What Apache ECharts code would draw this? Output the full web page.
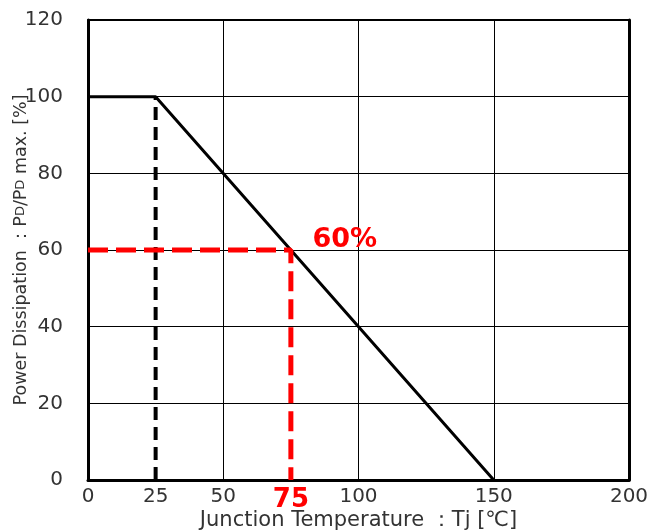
<!DOCTYPE html>
<html><head><meta charset="utf-8">
<script src="https://cdn.jsdelivr.net/npm/echarts@6/dist/echarts.min.js"></script>
<style>html,body{margin:0;padding:0;background:#fff}#c{width:651px;height:531px}</style>
</head><body><div id="c"></div>
<script>
// Derating curve
const curveTemp = [0, 25, 150];
const curvePower = [100, 100, 0];
// Black dashed guide at 25°C
const guide25Temp = [25, 25];
const guide25Power = [0, 100];
// Red dashed guide to 75°C / 60%
const guide75Temp = [0, 75, 75];
const guide75Power = [60, 60, 0];
const highlightPoint = [75, 60];
const highlightLabel = '60%';
// Tick labels
const xTickLabels = ['0', '25', '50', '75', '100', '150', '200'];
const xHighlightTick = '75';
const yTicks = [0, 20, 40, 60, 80, 100, 120];

const zip = (a, b) => a.map((v, i) => [v, b[i]]);
const font = 'DejaVu Sans';

const chart = echarts.init(document.getElementById('c'));
chart.setOption({
  animation: false,
  backgroundColor: '#fff',
  grid: { left: 88, right: 22, top: 20, bottom: 51, containLabel: false, outerBoundsMode: 'none' },
  xAxis: [
    {
      type: 'value', min: 0, max: 200, interval: 25, position: 'bottom',
      name: 'Junction Temperature ：Tj [℃]', nameLocation: 'middle', nameGap: 30, nameMoveOverlap: false,
      nameTextStyle: { fontFamily: font, fontSize: 21, color: '#333' },
      axisLine: { show: true, onZero: false, lineStyle: { color: '#000', width: 3 } },
      axisTick: { show: false },
      splitLine: { show: false },
      axisLabel: {
        margin: 7, fontFamily: font, fontSize: 20, color: '#333', verticalAlign: 'top',
        formatter: v => {
          const s = String(v);
          if (xTickLabels.indexOf(s) < 0) return '';
          return s === xHighlightTick ? '{r|' + s + '}' : s;
        },
        rich: { r: { fontFamily: font, fontSize: 26, fontWeight: 'bold', color: '#ff0000', verticalAlign: 'top' } }
      }
    },
    {
      type: 'value', min: 0, max: 200, interval: 50, position: 'top',
      axisLine: { show: true, onZero: false, lineStyle: { color: '#000', width: 2 } },
      axisTick: { show: false }, axisLabel: { show: false },
      splitLine: { show: true, lineStyle: { color: '#000', width: 1 } }
    }
  ],
  yAxis: [
    {
      type: 'value', min: yTicks[0], max: yTicks[yTicks.length - 1], interval: 20, position: 'left',
      name: 'Power Dissipation ：P{s|D}/P{s|D} max. [%]', nameLocation: 'middle', nameGap: 58, nameRotate: 90,
      nameMoveOverlap: false,
      nameTextStyle: { fontFamily: font, fontSize: 17.5, color: '#333',
        rich: { s: { fontFamily: font, fontSize: 13, color: '#333' } } },
      axisLine: { show: true, onZero: false, lineStyle: { color: '#000', width: 3 } },
      axisTick: { show: false },
      axisLabel: { margin: 25, fontFamily: font, fontSize: 20, color: '#333' },
      splitLine: { show: true, lineStyle: { color: '#000', width: 1 } }
    },
    {
      type: 'value', min: 0, max: 120, interval: 20, position: 'right',
      axisLine: { show: true, onZero: false, lineStyle: { color: '#000', width: 3 } },
      axisTick: { show: false }, axisLabel: { show: false }, splitLine: { show: false }
    }
  ],
  series: [
    {
      type: 'line', data: zip(guide25Temp, guide25Power), symbol: 'none', silent: true,
      lineStyle: { color: '#000', width: 4, type: [13, 7] }
    },
    {
      type: 'line', data: zip(curveTemp, curvePower), symbol: 'none', silent: true,
      lineStyle: { color: '#000', width: 3 }
    },
    {
      type: 'line', data: zip(guide75Temp, guide75Power),
      symbol: 'none', silent: true,
      lineStyle: { color: '#ff0000', width: 5, type: [20, 8] }
    },
    {
      type: 'scatter', data: [highlightPoint], symbolSize: 1, silent: true,
      itemStyle: { color: 'rgba(0,0,0,0)' },
      label: { show: true, formatter: highlightLabel, position: 'right', distance: 0, offset: [21, -10],
        fontFamily: font, fontSize: 27, fontWeight: 'bold', color: '#ff0000', opacity: 1 }
    }
  ]
});
</script></body></html>
